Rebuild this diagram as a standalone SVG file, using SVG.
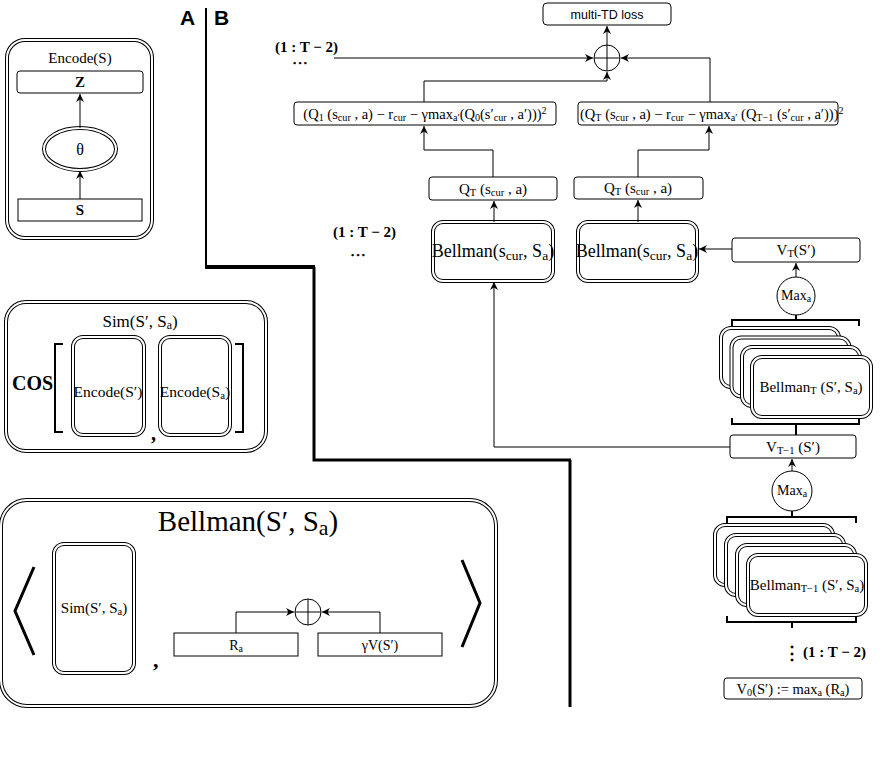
<svg xmlns="http://www.w3.org/2000/svg" width="882" height="771" viewBox="0 0 882 771">
<style>
text{font-family:"Liberation Serif","Times New Roman",serif;fill:#000}
.c{text-anchor:middle}
.b{font-weight:bold}
.sans{font-family:"Liberation Sans",Arial,sans-serif}
.box{fill:#fff;stroke:#000;stroke-width:1}
.d1{fill:#fff;stroke:#000;stroke-width:4}
.d2{fill:none;stroke:#fff;stroke-width:2}
.ln{fill:none;stroke:#000;stroke-width:1}
.sep{fill:none;stroke:#000}
.br{fill:none;stroke:#000;stroke-width:2}
.ang{fill:none;stroke:#000;stroke-width:3}
</style>
<defs>
<marker id="ah" viewBox="0 0 10 10" refX="10" refY="5" markerWidth="8" markerHeight="8" orient="auto" markerUnits="userSpaceOnUse"><path d="M0,0 L10,5 L0,10 L3,5 z" fill="#000"/></marker>
</defs>

<!-- separators -->
<g id="separator">
<path class="sep" stroke-width="2" d="M206,8 V267"/>
<path class="sep" stroke-width="4" d="M205,267 H315"/>
<path class="sep" stroke-width="3" d="M314,267 V460 H571"/>
<path class="sep" stroke-width="3" d="M570,460 V707"/>
<text class="sans b" x="180" y="25" font-size="21">A</text>
<text class="sans b" x="214" y="25" font-size="21">B</text>
</g>

<!-- Panel A: Encode -->
<g id="encode-panel">
<rect class="d1" x="7" y="40" width="145" height="198" rx="18"/>
<rect class="d2" x="7" y="40" width="145" height="198" rx="18"/>
<text class="c" x="80" y="63" font-size="15">Encode(S)</text>
</g>
<g id="encode-z">
<rect class="box" x="17" y="71" width="126" height="22" rx="3"/>
<text class="c b" x="80" y="87" font-size="15">Z</text>
</g>
<g id="encode-theta">
<ellipse cx="80" cy="149" rx="36" ry="21" fill="#fff" stroke="#000" stroke-width="4"/>
<ellipse cx="80" cy="149" rx="36" ry="21" fill="none" stroke="#fff" stroke-width="2"/>
<text class="c" x="80" y="155" font-size="16">θ</text>
</g>
<g id="encode-s">
<rect class="box" x="18" y="199" width="124" height="22"/>
<text class="c b" x="80" y="215" font-size="15">S</text>
</g>

<!-- Sim panel -->
<g id="sim-panel">
<rect class="d1" x="6" y="302" width="260" height="149" rx="20"/>
<rect class="d2" x="6" y="302" width="260" height="149" rx="20"/>
<text class="c" x="140" y="327" font-size="17">Sim(S′, S<tspan baseline-shift="-20%" font-size="70%">a</tspan>)</text>
<text class="b" x="12" y="390" font-size="20">COS</text>
<path class="br" stroke-width="3" d="M63,344 H55 V432 H63"/>
<path class="br" stroke-width="3" d="M235,344 H243 V432 H235"/>
<text class="b" x="151" y="440" font-size="20">,</text>
</g>
<g id="sim-enc1">
<rect class="d1" x="73" y="337" width="71" height="98" rx="10"/>
<rect class="d2" x="73" y="337" width="71" height="98" rx="10"/>
<text class="c" x="108" y="397" font-size="15.5">Encode(S′)</text>
</g>
<g id="sim-enc2">
<rect class="d1" x="160" y="337" width="70" height="98" rx="10"/>
<rect class="d2" x="160" y="337" width="70" height="98" rx="10"/>
<text class="c" x="195" y="397" font-size="15.5">Encode(S<tspan baseline-shift="-20%" font-size="70%">a</tspan>)</text>
</g>

<!-- Bellman panel -->
<g id="bellman-panel">
<rect class="d1" x="1" y="500" width="495" height="206" rx="26"/>
<rect class="d2" x="1" y="500" width="495" height="206" rx="26"/>
<text class="c" x="248" y="531" font-size="29">Bellman(S′, S<tspan baseline-shift="-20%" font-size="75%">a</tspan>)</text>
<path class="ang" d="M34,567 L15,611 L34,655"/>
<path class="ang" d="M462,560 L480,603 L462,647"/>
<text class="b" x="153" y="667" font-size="22">,</text>
</g>
<g id="bellman-sim">
<rect class="d1" x="54" y="544" width="80" height="129" rx="10"/>
<rect class="d2" x="54" y="544" width="80" height="129" rx="10"/>
<text class="c" x="94" y="613" font-size="15">Sim(S′, S<tspan baseline-shift="-20%" font-size="70%">a</tspan>)</text>
</g>
<g id="bellman-ra">
<rect class="box" x="174" y="633" width="124" height="23"/>
<text class="c" x="236" y="650" font-size="14">R<tspan baseline-shift="-20%" font-size="70%">a</tspan></text>
</g>
<g id="bellman-gv">
<rect class="box" x="318" y="633" width="124" height="23"/>
<text class="c" x="380" y="650" font-size="14">γV(S′)</text>
</g>
<g id="bellman-plus">
<circle cx="308" cy="612" r="13" fill="#fff" stroke="#000"/>
<path class="ln" d="M295,612 H321 M308,599 V625"/>
</g>

<!-- Panel B -->
<g id="loss">
<rect class="box" x="543" y="3" width="128" height="22" rx="4"/>
<text class="c sans" x="607" y="19" font-size="12.5">multi-TD loss</text>
</g>
<g id="loss-plus">
<circle cx="607" cy="58" r="13" fill="#fff" stroke="#000"/>
<path class="ln" d="M594,58 H620 M607,45 V71"/>
</g>
<g id="top-dots">
<text class="b" x="275" y="52" font-size="15">(1 : T − 2)</text>
<text class="b" x="293" y="66" font-size="9">•    •    •</text>
</g>
<g id="td-left">
<rect class="box" x="294" y="102" width="262" height="23" rx="3"/>
<text class="c" x="425" y="119" font-size="14.5">(Q<tspan baseline-shift="-20%" font-size="70%">1</tspan> (s<tspan baseline-shift="-20%" font-size="70%">cur</tspan> , a) − r<tspan baseline-shift="-20%" font-size="70%">cur</tspan>  − γmax<tspan baseline-shift="-20%" font-size="70%">a′</tspan>(Q<tspan baseline-shift="-20%" font-size="70%">0</tspan>(s′<tspan baseline-shift="-20%" font-size="70%">cur</tspan> , a′)))<tspan baseline-shift="super" font-size="70%">2</tspan></text>
</g>
<g id="td-right">
<rect class="box" x="578" y="102" width="260" height="23" rx="3"/>
<text x="580" y="119" font-size="14.5">(Q<tspan baseline-shift="-20%" font-size="70%">T</tspan> (s<tspan baseline-shift="-20%" font-size="70%">cur</tspan> , a) − r<tspan baseline-shift="-20%" font-size="70%">cur</tspan>  − γmax<tspan baseline-shift="-20%" font-size="70%">a′</tspan> (Q<tspan baseline-shift="-20%" font-size="70%">T−1</tspan> (s′<tspan baseline-shift="-20%" font-size="70%">cur</tspan> , a′)))<tspan baseline-shift="super" font-size="70%">2</tspan></text>
</g>
<g id="q-left">
<rect class="box" x="429" y="177" width="128" height="23" rx="3"/>
<text class="c" x="493" y="194" font-size="15">Q<tspan baseline-shift="-20%" font-size="70%">T</tspan> (s<tspan baseline-shift="-20%" font-size="70%">cur</tspan> , a)</text>
</g>
<g id="q-right">
<rect class="box" x="574" y="177" width="129" height="22" rx="3"/>
<text class="c" x="638" y="193" font-size="15">Q<tspan baseline-shift="-20%" font-size="70%">T</tspan> (s<tspan baseline-shift="-20%" font-size="70%">cur</tspan> , a)</text>
</g>
<g id="mid-dots">
<text class="b" x="333" y="237" font-size="15">(1 : T − 2)</text>
<text class="b" x="351" y="258" font-size="9">•    •    •</text>
</g>
<g id="bellman-left">
<rect class="d1" x="433" y="222" width="120" height="59" rx="10"/>
<rect class="d2" x="433" y="222" width="120" height="59" rx="10"/>
<text class="c" x="493" y="257" font-size="18">Bellman(s<tspan baseline-shift="-20%" font-size="75%">cur</tspan>, S<tspan baseline-shift="-20%" font-size="75%">a</tspan>)</text>
</g>
<g id="bellman-right">
<rect class="d1" x="578" y="222" width="119" height="59" rx="10"/>
<rect class="d2" x="578" y="222" width="119" height="59" rx="10"/>
<text class="c" x="637" y="257" font-size="18">Bellman(s<tspan baseline-shift="-20%" font-size="75%">cur</tspan>, S<tspan baseline-shift="-20%" font-size="75%">a</tspan>)</text>
</g>
<g id="vt">
<rect class="box" x="732" y="238" width="128" height="24" rx="3"/>
<text class="c" x="796" y="255" font-size="15">V<tspan baseline-shift="-20%" font-size="70%">T</tspan>(S′)</text>
</g>
<g id="max1">
<circle cx="796" cy="296" r="19" fill="#fff" stroke="#000"/>
<text class="c" x="796" y="300" font-size="14">Max<tspan baseline-shift="-20%" font-size="70%">a</tspan></text>
</g>
<g id="stack1">
<path class="br" d="M732,326 V320 H859 V326"/>
<rect class="d1" x="721" y="328" width="118" height="59" rx="10"/>
<rect class="d2" x="721" y="328" width="118" height="59" rx="10"/>
<rect class="d1" x="731.5" y="337.5" width="118" height="59" rx="10"/>
<rect class="d2" x="731.5" y="337.5" width="118" height="59" rx="10"/>
<rect class="d1" x="742" y="347" width="118" height="59" rx="10"/>
<rect class="d2" x="742" y="347" width="118" height="59" rx="10"/>
<rect class="d1" x="752" y="357" width="119" height="60" rx="10"/>
<rect class="d2" x="752" y="357" width="119" height="60" rx="10"/>
<text class="c" x="811" y="392" font-size="15">Bellman<tspan baseline-shift="-20%" font-size="70%">T</tspan> (S′, S<tspan baseline-shift="-20%" font-size="70%">a</tspan>)</text>
<path class="br" d="M732,418 V424 H859 V418"/>
</g>
<g id="vt1">
<rect class="box" x="730" y="435" width="126" height="23" rx="3"/>
<text class="c" x="793" y="452" font-size="15">V<tspan baseline-shift="-20%" font-size="70%">T−1</tspan> (S′)</text>
</g>
<g id="max2">
<circle cx="792" cy="491" r="20" fill="#fff" stroke="#000"/>
<text class="c" x="792" y="495" font-size="14">Max<tspan baseline-shift="-20%" font-size="70%">a</tspan></text>
</g>
<g id="stack2">
<path class="br" d="M727,523 V517 H856 V523"/>
<rect class="d1" x="715" y="525" width="118" height="60" rx="10"/>
<rect class="d2" x="715" y="525" width="118" height="60" rx="10"/>
<rect class="d1" x="726" y="535" width="118" height="60" rx="10"/>
<rect class="d2" x="726" y="535" width="118" height="60" rx="10"/>
<rect class="d1" x="737" y="545" width="118" height="60" rx="10"/>
<rect class="d2" x="737" y="545" width="118" height="60" rx="10"/>
<rect class="d1" x="748" y="555" width="118" height="60" rx="10"/>
<rect class="d2" x="748" y="555" width="118" height="60" rx="10"/>
<text class="c" x="807" y="590" font-size="15">Bellman<tspan baseline-shift="-20%" font-size="70%">T−1</tspan> (S′, S<tspan baseline-shift="-20%" font-size="70%">a</tspan>)</text>
<path class="br" d="M727,616 V622 H856 V616"/>
</g>
<g id="bottom-dots">
<text class="b c" x="792" y="659" font-size="18">⋮</text>
<text class="b" x="803" y="657" font-size="15">(1 : T − 2)</text>
</g>
<g id="v0">
<rect class="box" x="724" y="678" width="138" height="21" rx="3"/>
<text class="c" x="793" y="694" font-size="14.5">V<tspan baseline-shift="-20%" font-size="70%">0</tspan>(S′) := max<tspan baseline-shift="-20%" font-size="70%">a</tspan> (R<tspan baseline-shift="-20%" font-size="70%">a</tspan>)</text>
</g>

<!-- connectors -->
<g id="connectors" fill="none" stroke="#000" stroke-width="1">
<path d="M80,128 V94" marker-end="url(#ah)"/>
<path d="M80,199 V171" marker-end="url(#ah)"/>
<path d="M236,633 V612 H294" marker-end="url(#ah)"/>
<path d="M380,633 V612 H322" marker-end="url(#ah)"/>
<path d="M607,45 V26" marker-end="url(#ah)"/>
<path d="M334,58 H593" marker-end="url(#ah)"/>
<path d="M710,102 V58 H621" marker-end="url(#ah)"/>
<path d="M424,102 V81 H607 V72" marker-end="url(#ah)"/>
<path d="M493,177 V150 H424 V126" marker-end="url(#ah)"/>
<path d="M638,177 V150 H709 V126" marker-end="url(#ah)"/>
<path d="M494,222 V201" marker-end="url(#ah)"/>
<path d="M638,222 V200" marker-end="url(#ah)"/>
<path d="M732,249 H699" marker-end="url(#ah)"/>
<path d="M796,277 V263" marker-end="url(#ah)"/>
<path d="M730,447 H494 V282" marker-end="url(#ah)"/>
<path d="M792,471 V459" marker-end="url(#ah)"/>
<path d="M796,315 V320" stroke-width="2"/>
<path d="M796,424 V435" stroke-width="2"/>
<path d="M792,511 V517" stroke-width="2"/>
<path d="M792,622 V628" stroke-width="2"/>
</g>
</svg>
